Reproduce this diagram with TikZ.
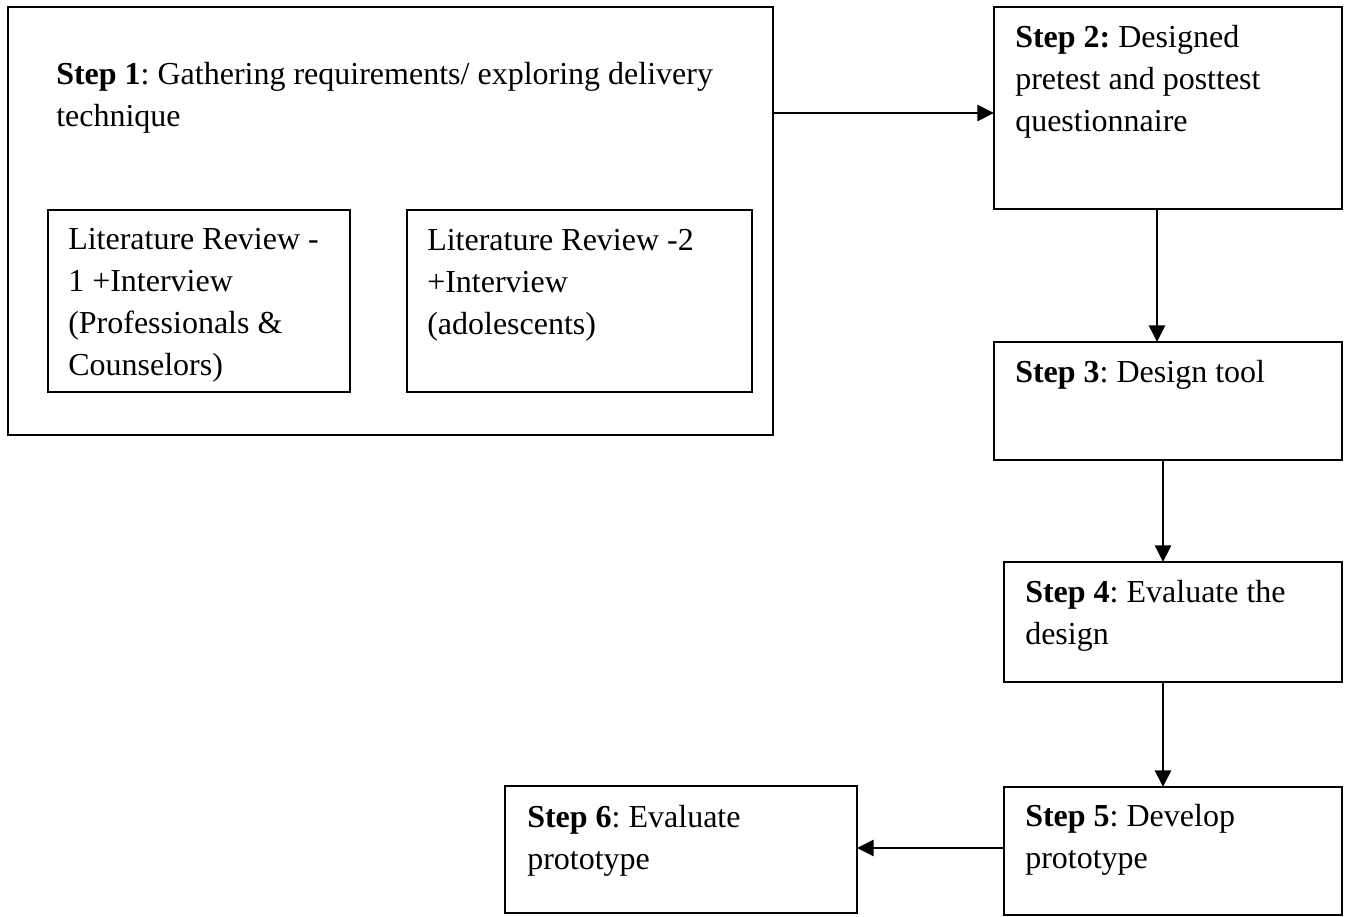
\documentclass[tikz,border=0pt]{standalone}
\usepackage{fontspec}
\setmainfont{Liberation Serif}
\usetikzlibrary{arrows.meta}
\frenchspacing
% raises the first line so that a node's north edge sits a fixed height above its baseline
\newcommand\firstline{\rule{0pt}{24pt}}
\begin{document}
\begin{tikzpicture}[x=0.75pt,y=-0.75pt,
  box/.style={draw, line width=1.5pt, inner sep=0pt, outer sep=0pt, anchor=north west},
  txt/.style={inner sep=0pt, anchor=north west, align=left,
    font=\fontsize{24}{31.5}\selectfont},
  arr/.style={line width=2pt, -{Triangle[length=12.5pt,width=12pt]}}]
\useasboundingbox (0,0) rectangle (1357,917);

% boxes
\node[box, minimum width={765*0.75pt}, minimum height={428*0.75pt}] (s1) at (8,7) {};
\node[box, minimum width={302*0.75pt}, minimum height={182*0.75pt}] (lr1) at (48,210) {};
\node[box, minimum width={345*0.75pt}, minimum height={182*0.75pt}] (lr2) at (407,210) {};
\node[box, minimum width={348*0.75pt}, minimum height={202*0.75pt}] (s2) at (994,7) {};
\node[box, minimum width={348*0.75pt}, minimum height={118*0.75pt}] (s3) at (994,342) {};
\node[box, minimum width={338*0.75pt}, minimum height={120*0.75pt}] (s4) at (1004,562) {};
\node[box, minimum width={338*0.75pt}, minimum height={128*0.75pt}] (s5) at (1004,787) {};
\node[box, minimum width={352*0.75pt}, minimum height={127*0.75pt}] (s6) at (505,786) {};

% texts (placed 32 units above their first baseline)
\node[txt] (t1) at (56,52) {\firstline\textbf{Step 1}: Gathering requirements/ exploring delivery\\technique};
\node[txt] (tlr1) at (68,217) {\firstline Literature Review -\\1 +Interview\\(Professionals \&\\Counselors)};
\node[txt] (tlr2) at (427,218) {\firstline Literature Review -2\\+Interview\\(adolescents)};
\node[txt] (t2) at (1015,15) {\firstline\textbf{Step 2:} Designed\\pretest and posttest\\questionnaire};
\node[txt] (t3) at (1015,350) {\firstline\textbf{Step 3}: Design tool};
\node[txt] (t4) at (1025,570) {\firstline\textbf{Step 4}: Evaluate the\\design};
\node[txt] (t5) at (1025,794) {\firstline\textbf{Step 5}: Develop\\prototype};
\node[txt] (t6) at (527,795) {\firstline\textbf{Step 6}: Evaluate\\prototype};

% connector lines
\coordinate (y12) at (0,113);
\coordinate (x23) at (1157,0);
\coordinate (x34) at (1163,0);
\coordinate (x45) at (1163,0);
\coordinate (y56) at (0,848);
\draw[arr] (s1.east |- y12) -- (s2.west |- y12);
\draw[arr] (s2.south -| x23) -- (s3.north -| x23);
\draw[arr] (s3.south -| x34) -- (s4.north -| x34);
\draw[arr] (s4.south -| x45) -- (s5.north -| x45);
\draw[arr] (s5.west |- y56) -- (s6.east |- y56);
\end{tikzpicture}
\end{document}
